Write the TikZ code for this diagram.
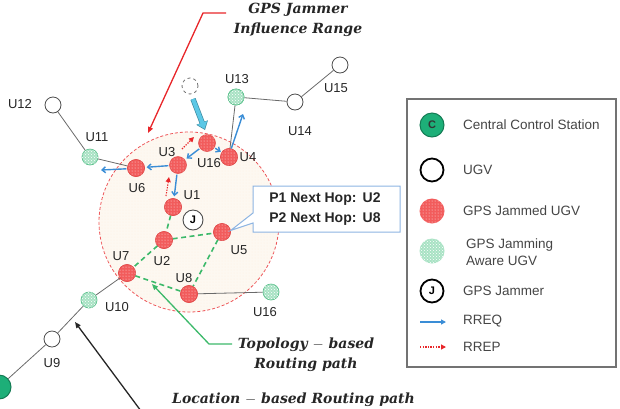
\documentclass[tikz,border=0pt]{standalone}
\usepackage{fontspec}
\setmainfont{Liberation Sans}
\newfontfamily\annotfont{DejaVu Serif}
\usetikzlibrary{arrows.meta,patterns}
\definecolor{jamred}{HTML}{F25C5C}
\definecolor{jamborder}{HTML}{E04848}
\definecolor{awaregreen}{HTML}{A8E2C4}
\definecolor{awareborder}{HTML}{5EC28E}
\definecolor{ccsgreen}{HTML}{1DAF78}
\definecolor{rangefill}{HTML}{FDF8F1}
\definecolor{rreqblue}{HTML}{3A8DD6}
\definecolor{edgegray}{HTML}{6A6A6A}
\definecolor{calloutblue}{HTML}{8DB4E2}
\definecolor{topogreen}{HTML}{3CB96A}
\definecolor{cyanarrow}{HTML}{5CC8E6}
\definecolor{annotred}{HTML}{E8262A}
\definecolor{legtext}{HTML}{454545}
\begin{document}
\begin{tikzpicture}[x=1pt,y=-1pt,
  ugv/.style={circle, draw=black!70, line width=0.8pt, fill=white, minimum size=16pt, inner sep=0pt},
  ghost/.style={circle, draw=black!55, dashed, line width=0.8pt, fill=white, minimum size=16pt, inner sep=0pt},
  jammed/.style={circle, draw=jamborder, line width=0.5pt, fill=jamred, minimum size=17pt, inner sep=0pt,
     postaction={pattern=dots, pattern color=white!85!jamred}},
  aware/.style={circle, draw=awareborder, line width=0.7pt, fill=awaregreen, minimum size=16pt, inner sep=0pt,
     postaction={pattern=crosshatch dots, pattern color=white}},
  ccs/.style={circle, draw=ccsgreen!70!black, line width=1pt, fill=ccsgreen, minimum size=24pt, inner sep=0pt,
     font=\bfseries\fontsize{11}{12}\selectfont, text=black!80},
  jammer/.style={circle, draw=black!70, line width=0.9pt, fill=white, minimum size=20pt, inner sep=0pt,
     font=\bfseries\fontsize{11}{12}\selectfont},
  lbl/.style={font=\fontsize{13}{15}\selectfont, text=black!85, inner sep=0pt},
  link/.style={draw=edgegray, line width=0.8pt},
  topo/.style={draw=topogreen, line width=1.6pt, dash pattern=on 5pt off 3.5pt},
  rreq/.style={draw=rreqblue, line width=1.4pt, -{Straight Barb[length=3.5pt,width=6pt]}},
  rrep/.style={draw=annotred, line width=1.1pt, dash pattern=on 1.3pt off 1.3pt, -{Triangle[length=5pt,width=5pt]}},
  annot/.style={font=\annotfont\bfseries\itshape\fontsize{14}{20}\selectfont, text=black!85, align=center, inner sep=0pt},
  legtxt/.style={font=\fontsize{13.5}{17}\selectfont, text=legtext, anchor=west, inner sep=0pt, align=left},
]
\useasboundingbox (0,0) rectangle (620,408);

% jammer influence range
\path[draw=annotred!80, line width=0.8pt, dash pattern=on 3pt off 2pt, fill=rangefill,
   postaction={pattern=dots, pattern color=orange!12}] (189,222) circle (90);

% nodes
\node[ugv] (U12) at (53,105) {};
\node[aware] (U11) at (90,157) {};
\node[jammed] (U6) at (136,168) {};
\node[jammed] (U3) at (178,165) {};
\node[jammed] (U16a) at (207,143) {};
\node[jammed] (U4) at (229,157) {};
\node[aware] (U13) at (236,97) {};
\node[ugv] (U14) at (295,102) {};
\node[ugv] (U15) at (340,65) {};
\node[ghost] (G) at (190,86) {};
\node[jammed] (U1) at (173,207) {};
\node[jammer] (J) at (193,220) {J};
\node[jammed] (U5) at (222,232) {};
\node[jammed] (U2) at (164,240) {};
\node[jammed] (U7) at (127,273) {};
\node[jammed] (U8) at (189,294) {};
\node[aware] (U16b) at (271,292) {};
\node[aware] (U10) at (89,300) {};
\node[ugv] (U9) at (52,339) {};
\node[circle, draw=ccsgreen!70!black, line width=1pt, fill=ccsgreen, minimum size=24pt, inner sep=0pt] (C) at (-1,387) {};

% plain links
\draw[link] (U12) -- (U11);
\draw[link] (U11) -- (U6);
\draw[link] (U13) -- (U4);
\draw[link] (U13) -- (U14);
\draw[link] (U14) -- (U15);
\draw[link] (U8) -- (U16b);
\draw[link] (U7) -- (U10);
\draw[link] (U10) -- (U9);
\draw[link] (U9) -- (C);

% topology-based routing path
\draw[topo] (U1) -- (U2);
\draw[topo] (U2) -- (U7);
\draw[topo] (U2) -- (U5);
\draw[topo] (U5) -- (U8);
\draw[topo] (U7) -- (U8);

% re-draw nodes on top of links
\foreach \n in {U1,U2,U5,U7,U8,U6,U4} {\node[jammed] at (\n) {};}
\node[aware] at (U13) {};

% RREQ arrows
\coordinate (u4up) at (243,114);
\coordinate (u6left) at (101,170);
\draw[rreq, shorten <=1pt, shorten >=2pt] (U16a) -- (U3);
\draw[rreq, shorten <=1pt, shorten >=1pt] (U16a) -- (U4);
\draw[rreq, shorten <=1pt, shorten >=2pt] (U3) -- (U6);
\draw[rreq, shorten <=1pt] (U6.185) -- (u6left);
\draw[rreq, shorten <=1pt, shorten >=2pt] (U3) -- (U1);
\draw[rreq] (U4.75) -- (u4up);

% RREP arrows
\coordinate (rrep1s) at (182,149);
\coordinate (rrep1e) at (194,137);
\coordinate (rrep2s) at (166,196);
\coordinate (rrep2e) at (169,177);
\draw[rrep] (rrep1s) -- (rrep1e);
\draw[rrep] (rrep2s) -- (rrep2e);

% cyan movement arrow
\coordinate (mvs) at (193,99);
\coordinate (mve) at (205,130);
\draw[draw=cyanarrow!70!black, line width=5.4pt, -{Triangle[length=8pt,width=12pt]}] (mvs) -- (mve);
\draw[draw=cyanarrow, line width=4pt, shorten >=1.2pt, -{Triangle[length=6.5pt,width=10pt]}] (mvs) -- (mve);

% labels
\node[lbl] (lU12) at (20,104) {U12};
\node[lbl] (lU11) at (97,137) {U11};
\node[lbl] (lU6) at (137,188) {U6};
\node[lbl] (lU3) at (167,152) {U3};
\node[lbl] (lU16a) at (209,163) {U16};
\node[lbl] (lU4) at (248,157) {U4};
\node[lbl] (lU13) at (237,79) {U13};
\node[lbl] (lU14) at (300,131) {U14};
\node[lbl] (lU15) at (336,88) {U15};
\node[lbl] (lU1) at (192,195) {U1};
\node[lbl] (lU5) at (239,250) {U5};
\node[lbl] (lU2) at (162,261) {U2};
\node[lbl] (lU7) at (121,256) {U7};
\node[lbl] (lU8) at (184,278) {U8};
\node[lbl] (lU16b) at (265,312) {U16};
\node[lbl] (lU10) at (117,307) {U10};
\node[lbl] (lU9) at (52,363) {U9};

% callout
\path[draw=calloutblue, line width=1pt, fill=white]
  (253,186) -- (400,186) -- (400,232) -- (253,232) -- (253,223) -- (U5.10) -- (253,213) -- cycle;
\node[font=\bfseries\fontsize{14}{20}\selectfont, text=black!85, align=left, inner sep=0pt] (hop) at (325,209)
  {P1 Next Hop:\,\ U2\\P2 Next Hop:\,\ U8};

% annotations
\node[annot] (tRange) at (298,20) {GPS Jammer\\Influence Range};
\coordinate (r1) at (226,13);
\coordinate (r2) at (203,13);
\coordinate (r3) at (148,133);
\draw[draw=annotred, line width=1.3pt, -{Triangle[length=6pt,width=5pt]}] (r1) -- (r2) -- (r3);

\node[annot] (tTopo) at (306,355) {Topology $-$ based\\Routing path};
\coordinate (g1) at (232,344);
\coordinate (g2) at (209,344);
\coordinate (g3) at (152,284);
\draw[draw=topogreen, line width=1.3pt, -{Triangle[length=6pt,width=5pt]}] (g1) -- (g2) -- (g3);

\node[annot, anchor=base west, font=\annotfont\bfseries\itshape\fontsize{14}{16}\selectfont] (tLoc) at (172,403) {Location $-$ based Routing path};
\coordinate (k1) at (141,411);
\coordinate (k2) at (75,322);
\draw[draw=black!85, line width=1.3pt, -{Triangle[length=6pt,width=5pt]}] (k1) -- (k2);

% legend
\draw[draw=black!55, line width=1.2pt] (407,99) rectangle (616,367);
\node[ccs] (LC) at (432,125) {C};
\node[circle, draw=black, line width=1.8pt, fill=white, minimum size=23pt, inner sep=0pt] (LU) at (432,170) {};
\node[jammed, minimum size=25pt, draw=none] (LJ) at (432,211) {};
\node[aware, minimum size=25pt, draw=none] (LA) at (432,251) {};
\node[jammer, draw=black, line width=1.8pt, minimum size=23pt] (LJm) at (432,291) {J};
\coordinate (lq1) at (420,322);
\coordinate (lq2) at (446,322);
\coordinate (lp1) at (420,347);
\coordinate (lp2) at (446,347);
\draw[rreq, -{Triangle[length=5pt,width=5pt]}, line width=1.2pt] (lq1) -- (lq2);
\draw[rrep] (lp1) -- (lp2);
\node[legtxt] (tC) at (463,125) {Central Control Station};
\node[legtxt] (tU) at (463,170) {UGV};
\node[legtxt] (tJ) at (463,211) {GPS Jammed UGV};
\node[legtxt] (tA) at (466,252) {GPS Jamming\\Aware UGV};
\node[legtxt] (tJm) at (463,291) {GPS Jammer};
\node[legtxt] (tQ) at (463,321) {RREQ};
\node[legtxt] (tP) at (463,347) {RREP};
\end{tikzpicture}
\end{document}
